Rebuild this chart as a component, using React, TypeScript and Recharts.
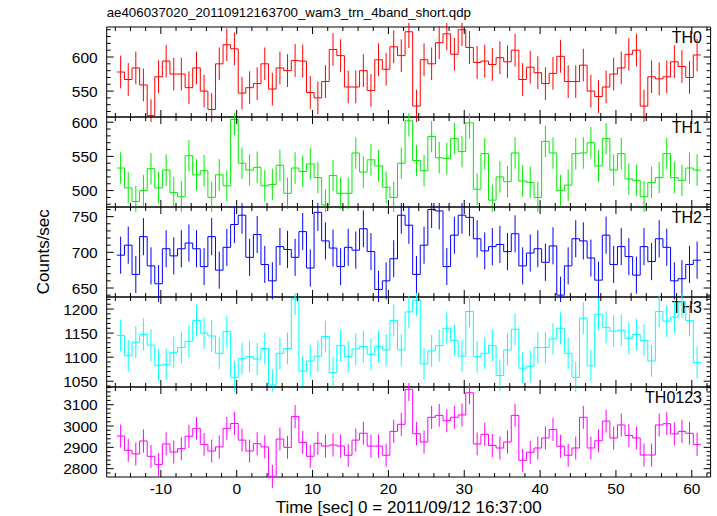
import React from 'react';
import { ComposedChart, Line, Scatter, ErrorBar, XAxis, YAxis, ReferenceArea } from 'recharts';

const TITLE = 'ae406037020_20110912163700_wam3_trn_4band_short.qdp';
const X_LABEL = 'Time [sec] 0 = 2011/09/12 16:37:00';
const Y_LABEL = 'Counts/sec';

// time bins (1 s wide), first bin starts at -15.8 s
const BIN_FIRST_START = -15.8;
const BIN_WIDTH = 1;

const TH0 = [
  578, 567, 584, 559, 514, 571, 594, 575, 575, 555,
  584, 550, 523, 590, 618, 612, 547, 555, 561, 590,
  553, 584, 580, 595, 594, 548, 540, 564, 611, 602,
  556, 556, 580, 551, 596, 582, 615, 602, 637, 528,
  596, 590, 621, 634, 604, 640, 614, 592, 594, 589,
  599, 593, 610, 567, 585, 577, 561, 576, 601, 564,
  564, 588, 550, 542, 556, 575, 584, 604, 610, 528,
  571, 568, 571, 593, 586, 570, 603,
];
const TH1 = [
  533, 504, 484, 500, 532, 504, 530, 497, 491, 551,
  523, 529, 490, 523, 507, 604, 540, 530, 534, 507,
  509, 537, 496, 533, 528, 539, 519, 479, 522, 496,
  496, 555, 527, 545, 536, 505, 490, 540, 602, 544,
  529, 579, 548, 547, 576, 557, 599, 502, 554, 486,
  520, 513, 555, 514, 512, 490, 572, 555, 500, 508,
  554, 555, 570, 536, 576, 530, 554, 517, 515, 491,
  512, 519, 554, 519, 515, 533, 530,
];
const TH2 = [
  696, 710, 669, 722, 681, 656, 705, 695, 705, 713,
  705, 680, 722, 675, 707, 739, 752, 693, 725, 683,
  660, 708, 704, 693, 729, 678, 756, 716, 706, 680,
  707, 703, 733, 701, 648, 660, 691, 752, 738, 669,
  710, 760, 758, 680, 724, 752, 749, 719, 702, 708,
  711, 701, 726, 681, 699, 705, 686, 709, 640, 681,
  719, 716, 692, 661, 724, 683, 708, 694, 668, 708,
  687, 719, 707, 660, 663, 683, 689,
];
const TH3 = [
  1145, 1103, 1131, 1147, 1125, 1083, 1085, 1110, 1120, 1133,
  1176, 1150, 1144, 1108, 1153, 1058, 1097, 1101, 1096, 1118,
  1042, 1108, 1118, 1221, 1071, 1092, 1102, 1143, 1068, 1124,
  1101, 1117, 1122, 1106, 1122, 1115, 1176, 1115, 1194, 1218,
  1086, 1113, 1124, 1160, 1135, 1102, 1195, 1101, 1108, 1124,
  1062, 1115, 1158, 1077, 1081, 1120, 1120, 1138, 1160, 1108,
  1058, 1181, 1082, 1189, 1162, 1154, 1156, 1139, 1147, 1135,
  1092, 1195, 1175, 1183, 1215, 1176, 1089,
];
const TH0123 = [
  2953, 2886, 2869, 2930, 2858, 2820, 2916, 2878, 2894, 2952,
  2989, 2914, 2883, 2902, 2989, 3012, 2934, 2883, 2917, 2902,
  2764, 2939, 2900, 3045, 2923, 2858, 2919, 2906, 2911, 2906,
  2863, 2934, 2966, 2906, 2906, 2863, 2975, 3008, 3172, 2964,
  2925, 3041, 3050, 3025, 3041, 3052, 3156, 2916, 2961, 2909,
  2897, 2925, 3050, 2839, 2877, 2897, 2944, 2984, 2905, 2863,
  2897, 3041, 2897, 2931, 3023, 2944, 3005, 2956, 2944, 2864,
  2864, 3005, 3011, 2963, 2975, 2966, 2914,
];

// 1-sigma errors
const TH0_ERR = 24;
const TH1_ERR = 23;
const TH2_ERR = 26;
const TH3_ERR = 33;
const TH0123_ERR = 54;

const X_TICKS = [-16, -14, -12, -10, -8, -6, -4, -2, 0, 2, 4, 6, 8, 10, 12, 14, 16, 18, 20, 22, 24, 26, 28, 30, 32, 34, 36, 38, 40, 42, 44, 46, 48, 50, 52, 54, 56, 58, 60, 62];
const X_LABELS = [-10, 0, 10, 20, 30, 40, 50, 60];

const TH0_TICKS = [520, 530, 540, 550, 560, 570, 580, 590, 600, 610, 620, 630, 640];
const TH0_LABELS = [550, 600];
const TH1_TICKS = [480, 490, 500, 510, 520, 530, 540, 550, 560, 570, 580, 590, 600];
const TH1_LABELS = [500, 550, 600];
const TH2_TICKS = [640, 650, 660, 670, 680, 690, 700, 710, 720, 730, 740, 750, 760];
const TH2_LABELS = [650, 700, 750];
const TH3_TICKS = [1040, 1050, 1060, 1070, 1080, 1090, 1100, 1110, 1120, 1130, 1140, 1150, 1160, 1170, 1180, 1190, 1200, 1210, 1220];
const TH3_LABELS = [1050, 1100, 1150, 1200];
const TH0123_TICKS = [2780, 2800, 2820, 2840, 2860, 2880, 2900, 2920, 2940, 2960, 2980, 3000, 3020, 3040, 3060, 3080, 3100, 3120, 3140, 3160, 3180];
const TH0123_LABELS = [2800, 2900, 3000, 3100];

// ---- layout / style ----
const W = 717;
const H = 516;
const PLOT_LEFT = 106.7;
const PLOT_RIGHT = 710.6;
const PLOT_W = PLOT_RIGHT - PLOT_LEFT;
const PANEL_TOP0 = 26.7;
const PANEL_H = 90;
const X_DOMAIN: [number, number] = [-17.14, 62.48];
const FONT = '"Liberation Sans", Arial, Helvetica, sans-serif';
const TICK_FONT = 15.5;

const PANELS = [
  { name: 'TH0', values: TH0, err: TH0_ERR, color: '#ff0000', domain: [512, 644], ticks: TH0_TICKS, labels: TH0_LABELS, major: 50 },
  { name: 'TH1', values: TH1, err: TH1_ERR, color: '#00ee00', domain: [476, 607.6], ticks: TH1_TICKS, labels: TH1_LABELS, major: 50 },
  { name: 'TH2', values: TH2, err: TH2_ERR, color: '#0000ff', domain: [637.4, 763.5], ticks: TH2_TICKS, labels: TH2_LABELS, major: 50 },
  { name: 'TH3', values: TH3, err: TH3_ERR, color: '#00ffff', domain: [1038, 1225], ticks: TH3_TICKS, labels: TH3_LABELS, major: 50 },
  { name: 'TH0123', values: TH0123, err: TH0123_ERR, color: '#ff00ff', domain: [2761, 3183], ticks: TH0123_TICKS, labels: TH0123_LABELS, major: 100 },
];

const XTick = (props: any) => {
  const { x, y, payload, showLabel } = props;
  const v = payload.value;
  const major = X_LABELS.includes(v);
  const len = major ? 7 : 4;
  return (
    <g>
      <line x1={x} x2={x} y1={y} y2={y - len} stroke="#000" strokeWidth={1} />
      <line x1={x} x2={x} y1={y - PANEL_H} y2={y - PANEL_H + len} stroke="#000" strokeWidth={1} />
      {showLabel && major ? (
        <text x={x} y={y + 17} textAnchor="middle" fontFamily={FONT} fontSize={TICK_FONT} fill="#000">
          {v}
        </text>
      ) : null}
    </g>
  );
};

const YTick = (props: any) => {
  const { x, y, payload, labels, major } = props;
  const v = payload.value;
  const isMajor = v % major === 0;
  const len = isMajor ? 7 : 4;
  return (
    <g>
      <line x1={x} x2={x + len} y1={y} y2={y} stroke="#000" strokeWidth={1} />
      <line x1={x + PLOT_W} x2={x + PLOT_W - len} y1={y} y2={y} stroke="#000" strokeWidth={1} />
      {labels.includes(v) ? (
        <text x={x - 9} y={y + 5.5} textAnchor="end" fontFamily={FONT} fontSize={TICK_FONT} fill="#000">
          {v}
        </text>
      ) : null}
    </g>
  );
};

const EmptyShape = () => <g />;

function Panel({ p, index }: { p: any; index: number }) {
  const last = index === PANELS.length - 1;
  const mt = 4;
  const mb = last ? 30 : 4;
  const top = PANEL_TOP0 + index * PANEL_H;
  const stepData = p.values.map((v: number, i: number) => ({ t: BIN_FIRST_START + i * BIN_WIDTH, v }));
  stepData.push({ t: BIN_FIRST_START + p.values.length * BIN_WIDTH, v: p.values[p.values.length - 1] });
  const pointData = p.values.map((v: number, i: number) => ({ t: BIN_FIRST_START + (i + 0.5) * BIN_WIDTH, v, e: p.err }));
  return (
    <div style={{ position: 'absolute', left: 0, top: top - mt }}>
      <ComposedChart
        width={W}
        height={PANEL_H + mt + mb + 1}
        margin={{ top: mt, right: W - PLOT_RIGHT, bottom: mb, left: PLOT_LEFT - 1 }}
      >
        <XAxis
          dataKey="t"
          type="number"
          domain={X_DOMAIN}
          ticks={X_TICKS}
          interval={0}
          allowDataOverflow
          height={1}
          tickSize={0}
          tickMargin={0}
          tickLine={false}
          axisLine={false}
          tick={<XTick showLabel={last} />}
        />
        <YAxis
          type="number"
          domain={p.domain}
          ticks={p.ticks}
          interval={0}
          allowDataOverflow
          width={1}
          tickSize={0}
          tickMargin={0}
          tickLine={false}
          axisLine={false}
          tick={<YTick labels={p.labels} major={p.major} />}
        />
        <Line
          data={stepData}
          dataKey="v"
          type="stepAfter"
          stroke={p.color}
          strokeWidth={1}
          dot={false}
          activeDot={false}
          isAnimationActive={false}
        />
        <Scatter data={pointData} dataKey="v" shape={EmptyShape} isAnimationActive={false}>
          <ErrorBar dataKey="e" direction="y" width={0} stroke={p.color} strokeWidth={1} isAnimationActive={false} />
        </Scatter>
        <ReferenceArea
          x1={X_DOMAIN[0]}
          x2={X_DOMAIN[1]}
          y1={p.domain[0]}
          y2={p.domain[1]}
          fill="none"
          stroke="#000"
          strokeWidth={1}
          ifOverflow="visible"
        />
      </ComposedChart>
    </div>
  );
}

export default function App() {
  const midY = PANEL_TOP0 + (PANEL_H * 5) / 2;
  return (
    <div style={{ position: 'absolute', left: 0, top: 0, width: W, height: H, background: '#fff', overflow: 'hidden' }}>
      <svg width={W} height={H} style={{ position: 'absolute', left: 0, top: 0 }}>
        <text x={PLOT_LEFT} y={17} fontFamily={FONT} fontSize={13.3} fill="#000">
          {TITLE}
        </text>
        <text
          x={49}
          y={midY}
          transform={`rotate(-90 49 ${midY})`}
          textAnchor="middle"
          fontFamily={FONT}
          fontSize={17}
          fill="#000"
        >
          {Y_LABEL}
        </text>
        <text x={(PLOT_LEFT + PLOT_RIGHT) / 2} y={513} textAnchor="middle" fontFamily={FONT} fontSize={17} fill="#000">
          {X_LABEL}
        </text>
        {PANELS.map((p, k) => (
          <text
            key={p.name}
            x={702}
            y={PANEL_TOP0 + k * PANEL_H + 16.6}
            textAnchor="end"
            fontFamily={FONT}
            fontSize={16}
            fill="#000"
          >
            {p.name}
          </text>
        ))}
      </svg>
      {PANELS.map((p, k) => (
        <Panel key={p.name} p={p} index={k} />
      ))}
    </div>
  );
}
